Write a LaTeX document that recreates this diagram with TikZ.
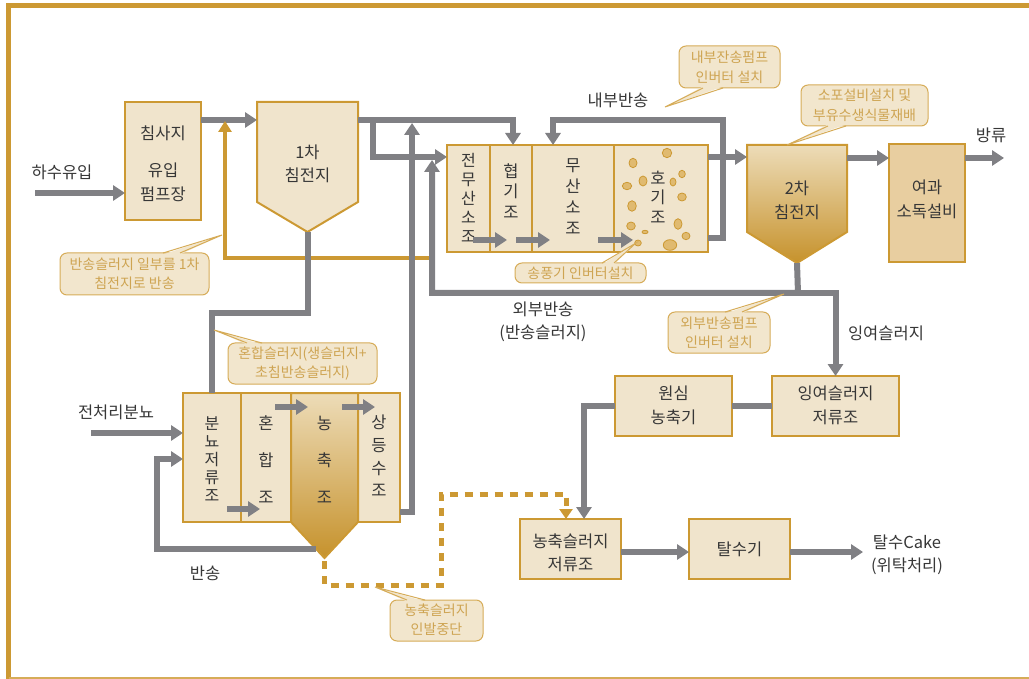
\documentclass[tikz,border=0pt]{standalone}
\usepackage{fontspec}
\setmainfont{Noto Sans CJK KR}
\usetikzlibrary{arrows.meta}
\definecolor{gold}{RGB}{204,153,51}
\definecolor{boxfill}{RGB}{240,228,204}
\definecolor{darkfill}{RGB}{232,206,160}
\definecolor{flowgray}{RGB}{128,128,132}
\definecolor{txt}{RGB}{55,55,55}
\definecolor{cofill}{RGB}{242,230,205}
\definecolor{coline}{RGB}{214,172,88}
\definecolor{cotext}{RGB}{206,164,82}
\definecolor{goldtop}{RGB}{237,220,184}
\definecolor{goldbot}{RGB}{198,146,44}
\definecolor{bubble}{RGB}{224,186,112}
\begin{document}
\begin{tikzpicture}[x=1pt,y=-1pt,
  flow/.style={draw=flowgray,line width=6pt,-{Triangle[length=12pt,width=15pt]}},
  pipe/.style={draw=flowgray,line width=6pt},
  goldflow/.style={draw=gold,line width=4pt,-{Triangle[length=11pt,width=13pt]}},
  dashflow/.style={draw=gold,line width=5pt,dash pattern=on 8pt off 7pt,-{Triangle[length=10pt,width=13pt]}},
  box/.style={draw=gold,line width=2pt,fill=boxfill,inner sep=0pt,outer sep=0pt,anchor=north west},
  lbl/.style={text=txt,font=\fontsize{16.5}{23}\selectfont,align=center,inner sep=0pt},
  vt/.style={text=txt,align=center,inner sep=0pt},
  cotxt/.style={text=cotext,font=\fontsize{14}{19}\selectfont,align=center,inner sep=0pt},
  cobox/.style={draw=coline,fill=cofill,line width=1pt,rounded corners=7pt},
  coptr/.style={draw=coline,line width=1pt},
  bub/.style={draw=gold,line width=0.8pt,fill=bubble},
]
\useasboundingbox (0,0) rectangle (1029,679);

% frame
\draw[gold,line width=5pt] (6,6) -- (1029,6);
\draw[gold,line width=5pt] (8.5,3.5) -- (8.5,679);
\draw[coline,line width=1.5pt] (8.5,678) -- (1029,678);

% ---------- top row boxes ----------
\node[box,minimum width=76,minimum height=118] (sand) at (125,102) {};
\node[lbl] (sandT) at (163,133) {침사지};
\node[lbl,font=\fontsize{16.5}{24}\selectfont] (sandB) at (163,182) {유입\\펌프장};

% 1st settling tank (pentagon)
\filldraw[fill=boxfill,draw=gold,line width=2pt] (257,102) -- (358,102) -- (358,202) -- (307.5,232) -- (257,202) -- cycle;
\coordinate (p1bot) at (307.5,232);
\node[lbl] (p1) at (307.5,163.5) {1차\\침전지};

% bioreactor compartments
\node[box,minimum width=43,minimum height=107] (c1) at (447,145) {};
\node[box,minimum width=42,minimum height=107] (c2) at (490,145) {};
\node[box,minimum width=82,minimum height=107] (c3) at (532,145) {};
\node[box,minimum width=94,minimum height=107] (c4) at (614,145) {};
\node[vt,font=\fontsize{16}{19}\selectfont] (c1t) at (468.5,198) {전\\무\\산\\소\\조};
\node[vt,font=\fontsize{16.5}{20.5}\selectfont] (c2t) at (511,191) {협\\기\\조};
\node[vt,font=\fontsize{16.5}{21}\selectfont] (c3t) at (573,197) {무\\산\\소\\조};
\node[vt,font=\fontsize{16.5}{19.5}\selectfont] (c4t) at (658,197) {호\\기\\조};

% bubbles
\foreach \bx/\by/\rx/\ry in {667/153/4.7/4.7, 633/163/4/4.7, 682/174/3.3/3.7, 643/181/4/5,
  673/182/3/4, 627/186/4.7/3.7, 682/197/4.3/4, 632/206/4.3/5.3, 678/224/4/5.3,
  631/226/4.3/4, 645/232/3/1.7, 686/236/4/3.7, 638/243/3.3/3, 670/245/6.7/5.3}
  \draw[bub] (\bx,\by) ellipse [x radius=\rx, y radius=\ry];

% 2nd settling tank
\shade[top color=goldtop,bottom color=goldbot] (747,145) -- (847,145) -- (847,232) -- (797,263) -- (747,232) -- cycle;
\draw[gold,line width=2pt] (747,145) -- (847,145) -- (847,232) -- (797,263) -- (747,232) -- cycle;
\coordinate (p2bot) at (797,263);
\node[lbl,font=\fontsize{16.5}{24}\selectfont] (p2) at (797,200) {2차\\침전지};

% filtration
\node[box,fill=darkfill,minimum width=76,minimum height=118] (filt) at (889,144) {};
\node[lbl,font=\fontsize{16.5}{24}\selectfont] (filtT) at (927,199) {여과\\소독설비};

% ---------- lower left block ----------
\node[box,minimum width=58,minimum height=129] (lb1) at (183,393) {};
\node[box,minimum width=50,minimum height=129] (lb2) at (241,393) {};
\node[box,minimum width=42,minimum height=129] (lb4) at (358,393) {};
\shade[top color=goldtop,bottom color=goldbot] (291,393) -- (358,393) -- (358,522) -- (324.5,558) -- (291,522) -- cycle;
\draw[gold,line width=2pt] (291,393) -- (358,393) -- (358,522) -- (324.5,558) -- (291,522) -- cycle;
\coordinate (p3bot) at (324.5,558);
\node[vt,font=\fontsize{16}{18}\selectfont] (lb1t) at (212,459) {분\\뇨\\저\\류\\조};
\node[vt,font=\fontsize{16.5}{37}\selectfont] (lb2t) at (266,460) {혼\\합\\조};
\node[vt,font=\fontsize{16.5}{37}\selectfont] (lb3t) at (324.5,460) {농\\축\\조};
\node[vt,font=\fontsize{16.5}{22.7}\selectfont] (lb4t) at (379,456) {상\\등\\수\\조};

% ---------- lower right boxes ----------
\node[box,minimum width=117,minimum height=60] (cen) at (615,376) {};
\node[lbl,font=\fontsize{16.5}{24}\selectfont] (cenT) at (673.5,405) {원심\\농축기};
\node[box,minimum width=127,minimum height=60] (exc) at (772,376) {};
\node[lbl,font=\fontsize{16.5}{24}\selectfont] (excT) at (835.5,405) {잉여슬러지\\저류조};
\node[box,minimum width=101,minimum height=60] (thk) at (520,519) {};
\node[lbl] (thkT) at (570.5,552.5) {농축슬러지\\저류조};
\node[box,minimum width=101,minimum height=60] (dew) at (689,519) {};
\node[lbl] (dewT) at (739.5,549) {탈수기};

% ---------- free labels ----------
\node[lbl] (inflow) at (62,172) {하수유입};
\node[lbl] (night) at (116,412) {전처리분뇨};
\node[lbl] (ret) at (205,573) {반송};
\node[lbl] (intret) at (618,100) {내부반송};
\node[lbl] (extret) at (543,321.5) {외부반송\\(반송슬러지)};
\node[lbl] (wasl) at (886,333) {잉여슬러지};
\node[lbl] (disch) at (991,135) {방류};
\node[lbl] (cake) at (907,554.5) {탈수Cake\\(위탁처리)};

% ---------- connectors ----------
\coordinate (inA) at (35,193);
\draw[flow] (inA) -- (inA -| sand.west);
\coordinate (s1) at (201,120);
\draw[flow] (s1) -- (257,120);

% gold partial return to primary
\coordinate (gA) at (432,258);
\coordinate (gB) at (225,258);
\draw[goldflow] (gA) -- (gB) -- (225,121);

% primary -> anaerobic, pre-anoxic
\coordinate (p1r) at (358,120);
\draw[flow] (p1r) -- (513,120) -- (513 ,145);
\coordinate (br) at (373,120);
\draw[flow] (br) -- (373,157) -- (c1.west |- 0,157);

% primary sludge down to night-soil tank
\draw[pipe] (p1bot) -- (307.5,313) -- (212,313) -- (212,393);

% supernatant return
\coordinate (sup) at (400,512);
\draw[flow] (sup) -- (412,512) -- (412,123);

% external return
\draw[flow] (p2bot) -- (798,293) -- (432,293) -- (432,160);
\coordinate (ex1) at (798,293);
\draw[flow] (ex1) -- (835.5,293) -- (exc.north);

% inner arrows of bioreactor
\draw[flow] (473,240) -- (507,240);
\draw[flow] (516,240) -- (550,240);
\draw[flow] (598,240) -- (633,240);

% internal recirculation
\coordinate (ir) at (708,238);
\draw[flow] (ir) -- (723,238) -- (723,120) -- (553,120) -- (553,145);

% to secondary, filtration, discharge
\coordinate (c4o) at (708,157);
\draw[flow] (c4o) -- (747,157);
\draw[flow] (847,158) -- (filt.west |- 0,158);
\draw[flow] (filt.east |- 0,158) -- (1004,158);

% lower-left flows
\coordinate (nA) at (91,433);
\draw[flow] (nA) -- (nA -| lb1.west);
\coordinate (rA) at (316,549);
\draw[flow] (rA) -- (157,549) -- (157,459) -- (183,459);
\draw[flow] (227,509) -- (260,509);
\draw[flow] (275,407) -- (308,407);
\draw[flow] (342,407) -- (375,407);

% dashed (stopped) thickened sludge
\draw[dashflow] (324.5,561) -- (324.5,585) -- (441,585) -- (441,494) -- (566,494) -- (566,519);

% lower-right flows
\draw[pipe] (exc.west |- 0,406) -- (cen.east |- 0,406);
\draw[flow] (cen.west |- 0,406) -- (584,406) -- (584,519);
\draw[flow] (thk.east |- 0,552) -- (dew.west |- 0,552);
\draw[flow] (dew.east |- 0,552) -- (863,552);

% ---------- callouts ----------
\draw[cobox] (679,46) rectangle (780,88);
\fill[cofill] (703,86.5) -- (665,107) -- (723,86.5) -- cycle;
\draw[coptr] (703,88) -- (665,107) -- (723,88);
\node[cotxt,font=\fontsize{14}{20}\selectfont] (co1) at (729.5,67) {내부잔송펌프\\인버터 설치};

\draw[cobox] (801,85) rectangle (928,126);
\fill[cofill] (828,124.5) -- (787,145) -- (846,124.5) -- cycle;
\draw[coptr] (828,126) -- (787,145) -- (846,126);
\node[cotxt,font=\fontsize{14}{20}\selectfont] (co2) at (864.5,105.5) {소포설비설치 및\\부유수생식물재배};

\draw[cobox] (60,253) rectangle (209,295);
\fill[cofill] (163,254.5) -- (222,235) -- (180,254.5) -- cycle;
\draw[coptr] (163,253) -- (222,235) -- (180,253);
\node[cotxt] (co3) at (134.5,274) {반송슬러지 일부를 1차\\침전지로 반송};

\draw[cobox] (515,263) rectangle (646,283);
\fill[cofill] (602,264.5) -- (636,243) -- (614,264.5) -- cycle;
\draw[coptr] (602,263) -- (636,243) -- (614,263);
\node[cotxt] (co4) at (580.5,273) {송풍기 인버터설치};

\draw[cobox] (668,312) rectangle (770,353);
\fill[cofill] (725,313.5) -- (784,294) -- (742,313.5) -- cycle;
\draw[coptr] (725,312) -- (784,294) -- (742,312);
\node[cotxt] (co5) at (719,332.5) {외부반송펌프\\인버터 설치};

\draw[cobox] (228,343) rectangle (377,384);
\fill[cofill] (247,344.5) -- (214,330) -- (262,344.5) -- cycle;
\draw[coptr] (247,343) -- (214,330) -- (262,343);
\node[cotxt] (co6) at (302.5,364) {혼합슬러지(생슬러지+\\초침반송슬러지)};

\draw[cobox] (390,600) rectangle (483,641);
\fill[cofill] (407,601.5) -- (375,587) -- (425,601.5) -- cycle;
\draw[coptr] (407,600) -- (375,587) -- (425,600);
\node[cotxt] (co7) at (436.5,620) {농축슬러지\\인발중단};

\end{tikzpicture}
\end{document}
